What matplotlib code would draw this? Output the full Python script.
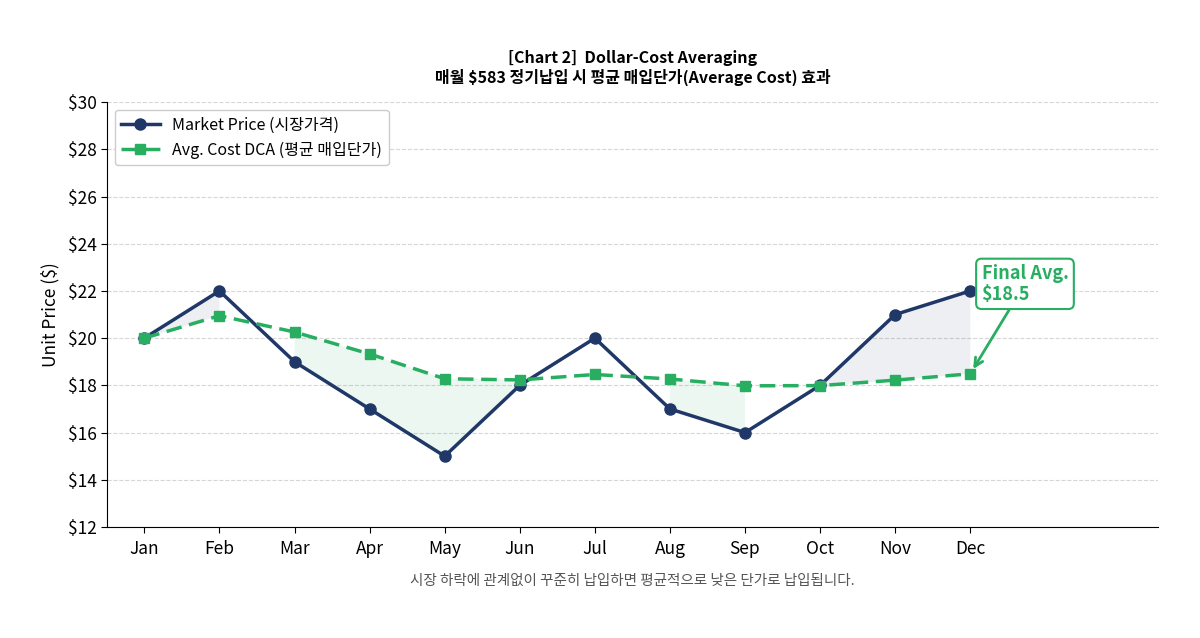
import matplotlib
matplotlib.use("Agg")
import matplotlib.pyplot as plt
import numpy as np
from matplotlib.ticker import FuncFormatter

plt.rcParams["font.family"] = ["Noto Sans CJK KR", "DejaVu Sans"]

MONTHS = ["Jan", "Feb", "Mar", "Apr", "May", "Jun", "Jul", "Aug", "Sep", "Oct", "Nov", "Dec"]
MARKET_PRICE = [20, 22, 19, 17, 15, 18, 20, 17, 16, 18, 21, 22]
AVG_COST = [20.0, 20.95, 20.26, 19.33, 18.28, 18.23, 18.46, 18.27, 17.98, 17.99, 18.22, 18.49]

NAVY = "#1f3868"
GREEN = "#27ae60"

x = np.arange(len(MONTHS))
price = np.array(MARKET_PRICE, dtype=float)
avg = np.array(AVG_COST, dtype=float)

fig, ax = plt.subplots(figsize=(12, 6.38), dpi=100)
fig.subplots_adjust(left=0.089, right=0.965, top=0.84, bottom=0.174)

ax.fill_between(x, price, avg, where=price >= avg, color=NAVY, alpha=0.08, linewidth=0)
ax.fill_between(x, price, avg, where=price <= avg, color=GREEN, alpha=0.09, linewidth=0)

ax.plot(x, price, color=NAVY, linewidth=2.5, marker="o", markersize=8,
        label="Market Price (시장가격)", zorder=3)
ax.plot(x, avg, color=GREEN, linewidth=2.5, linestyle="--", dashes=(4.5, 2.2),
        marker="s", markersize=7.5, label="Avg. Cost DCA (평균 매입단가)", zorder=3)

ax.set_xlim(-0.5, 13.5)
ax.set_ylim(12, 30)
ax.set_xticks(x)
ax.set_xticklabels(MONTHS)
ax.set_yticks(np.arange(12, 31, 2))
ax.yaxis.set_major_formatter(FuncFormatter(lambda v, _: f"${v:.0f}"))
ax.tick_params(axis="both", labelsize=12.5, length=4)
ax.tick_params(axis="x", pad=5.5)
ax.set_ylabel("Unit Price ($)", fontsize=12.5, labelpad=6)

ax.grid(axis="y", linestyle="--", color="#cccccc", linewidth=0.8, alpha=0.8)
ax.set_axisbelow(True)
for side in ("top", "right"):
    ax.spines[side].set_visible(False)

ax.set_title("[Chart 2]  Dollar-Cost Averaging\n매월 $583 정기납입 시 평균 매입단가(Average Cost) 효과",
             fontsize=11.5, fontweight="bold", pad=14, linespacing=1.2)

ax.legend(loc="upper left", fontsize=11.5, framealpha=1, edgecolor="#cccccc",
          handlelength=2.4)

ax.annotate(f"Final Avg.\n${avg[-1]:.1f}", xy=(x[-1], avg[-1]), xytext=(11.15, 22.3),
            ha="left", va="center", fontsize=13, fontweight="bold", color=GREEN,
            linespacing=1.1,
            bbox=dict(boxstyle="round,pad=0.3", facecolor="white", edgecolor=GREEN, linewidth=1.5),
            arrowprops=dict(arrowstyle="->", color=GREEN, linewidth=2,
                            shrinkA=0, shrinkB=4, mutation_scale=15))

fig.text(0.527, 0.09, "시장 하락에 관계없이 꾸준히 납입하면 평균적으로 낮은 단가로 납입됩니다.",
         ha="center", va="center", fontsize=10.5, color="#555555")

fig.savefig("out.png", dpi=100)
